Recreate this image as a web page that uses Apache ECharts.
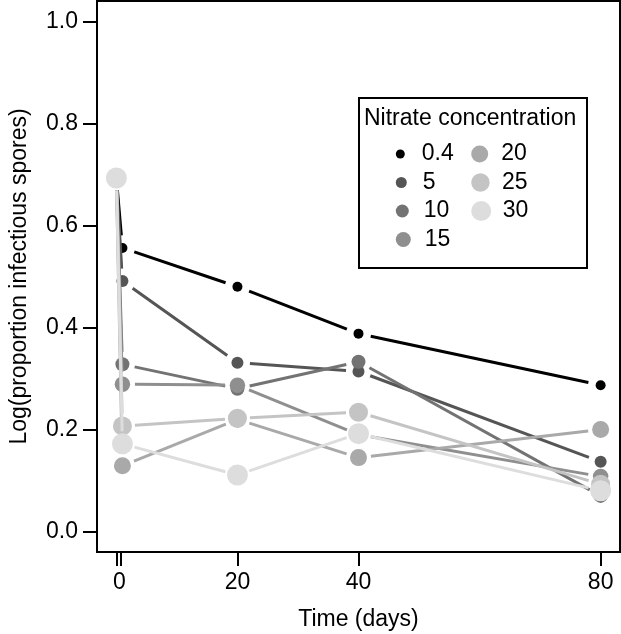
<!DOCTYPE html>
<html><head><meta charset="utf-8">
<script src="https://cdn.jsdelivr.net/npm/echarts@6/dist/echarts.min.js"></script>
<style>html,body{margin:0;padding:0;background:#fff}#c{width:621px;height:634px}</style>
</head><body><div id="c"></div>
<script>
// ---------- data ----------
const times = [0, 1, 20, 40, 80];
const concentrations = ['0.4', '5', '10', '15', '20', '25', '30'];
const s0_4 = [0.693, 0.556, 0.480, 0.388, 0.287];
const s5   = [0.693, 0.491, 0.331, 0.314, 0.137];
const s10  = [0.693, 0.328, 0.280, 0.333, 0.070];
const s15  = [0.693, 0.289, 0.287, 0.190, 0.108];
const s20  = [0.693, 0.129, 0.220, 0.145, 0.200];
const s25  = [0.693, 0.207, 0.222, 0.234, 0.093];
const s30  = [0.693, 0.172, 0.111, 0.192, 0.080];
const seriesValues = [s0_4, s5, s10, s15, s20, s25, s30];
const xTickValues = [0, 0.75, 20, 40, 80];
const xLabelValues = [0, 20, 40, 80];
const yTickValues = [0, 0.2, 0.4, 0.6, 0.8, 1.0];

// ---------- styles ----------
const colors = ['#000000', '#555555', '#737373', '#8f8f8f', '#a9a9a9', '#c4c4c4', '#dddddd'];
const sizes = [10, 12, 14, 15.5, 17, 19, 21];
const legendSizes = [9, 11, 13, 15, 17, 18.5, 20];
const FONT = 'Liberation Sans, Arial, Helvetica, sans-serif';
const FS = 23;
const GAP = 12.5;

const chart = echarts.init(document.getElementById('c'), null, {renderer: 'canvas'});

function lineRenderer(color) {
  return function (params, api) {
    const p1 = api.coord([api.value(0), api.value(1)]);
    const p2 = api.coord([api.value(2), api.value(3)]);
    const dx = p2[0] - p1[0], dy = p2[1] - p1[1];
    const L = Math.sqrt(dx * dx + dy * dy);
    if (L <= 2 * GAP) return null;
    const ux = dx / L, uy = dy / L;
    return {
      type: 'line',
      shape: {x1: p1[0] + ux * GAP, y1: p1[1] + uy * GAP, x2: p2[0] - ux * GAP, y2: p2[1] - uy * GAP},
      style: {stroke: color, lineWidth: 3, lineCap: 'butt'}
    };
  };
}

const series = [];
seriesValues.forEach(function (vals, i) {
  const segs = [];
  for (let k = 0; k < times.length - 1; k++) {
    segs.push([times[k], vals[k], times[k + 1], vals[k + 1]]);
  }
  series.push({
    type: 'custom', name: 'line-' + concentrations[i], z: 2 + 2 * i, silent: true,
    renderItem: lineRenderer(colors[i]),
    encode: {x: [0, 2], y: [1, 3]},
    data: segs, clip: true
  });
  series.push({
    type: 'scatter', name: concentrations[i], z: 3 + 2 * i, silent: true,
    symbol: 'circle', symbolSize: sizes[i],
    itemStyle: {color: colors[i], opacity: 1},
    emphasis: {disabled: true},
    data: times.map(function (t, k) { return [t, vals[k]]; })
  });
});

// legend: one component per entry so each can carry its own symbol size
const legendCols = [[0, 1, 2, 3], [4, 5, 6]];
const colCenterX = [412.3, 487.7];
const rowCenterY = [154, 182.5, 211, 239.5];
const legends = [];
legendCols.forEach(function (col, c) {
  col.forEach(function (idx, r) {
    legends.push({
      show: true, selectedMode: false, orient: 'vertical', padding: 0,
      left: colCenterX[c] - 16.5, top: rowCenterY[r] - FS / 2,
      itemWidth: 33, itemHeight: legendSizes[idx], itemGap: 0,
      icon: 'circle',
      textStyle: {fontFamily: FONT, fontSize: FS, color: '#000'},
      data: [concentrations[idx]]
    });
  });
});

chart.setOption({
  animation: false,
  backgroundColor: '#fff',
  grid: {left: 97, right: 1, top: 1, bottom: 82, show: true, borderColor: '#000', borderWidth: 2,
         backgroundColor: 'transparent', containLabel: false, outerBoundsMode: 'none'},
  xAxis: {
    type: 'value', min: -3.2, max: 83.2,
    name: 'Time (days)', nameLocation: 'middle', nameGap: 56,
    nameTextStyle: {fontFamily: FONT, fontSize: FS, color: '#000'},
    axisLine: {show: false, onZero: false},
    axisTick: {show: true, inside: false, customValues: xTickValues, length: 14, lineStyle: {color: '#000', width: 2}},
    axisLabel: {
      customValues: xLabelValues, margin: 19, fontFamily: FONT, fontSize: FS, color: '#000',
      formatter: function (v) { return v === 0 ? '{z|0}' : String(v); },
      rich: {z: {padding: [0, 0, 0, 6], fontFamily: FONT, fontSize: FS, color: '#000'}}
    },
    splitLine: {show: false}
  },
  yAxis: {
    type: 'value', min: -0.04, max: 1.04,
    name: 'Log(proportion infectious spores)', nameLocation: 'middle', nameGap: 66,
    nameTextStyle: {fontFamily: FONT, fontSize: FS, color: '#000'},
    axisLine: {show: false, onZero: false},
    axisTick: {show: true, inside: false, customValues: yTickValues, length: 14, lineStyle: {color: '#000', width: 2}},
    axisLabel: {
      customValues: yTickValues, margin: 19, fontFamily: FONT, fontSize: FS, color: '#000',
      formatter: function (v) { return v.toFixed(1); }
    },
    splitLine: {show: false}
  },
  legend: legends,
  graphic: [
    {type: 'rect', left: 358, top: 97, z: 1, shape: {width: 228, height: 170},
     style: {fill: '#fff', stroke: '#000', lineWidth: 2}},
    {type: 'text', left: 364, top: 107, z: 2,
     style: {text: 'Nitrate concentration', font: FS + 'px ' + FONT, fill: '#000'}}
  ],
  series: series
});
</script>
</body></html>
